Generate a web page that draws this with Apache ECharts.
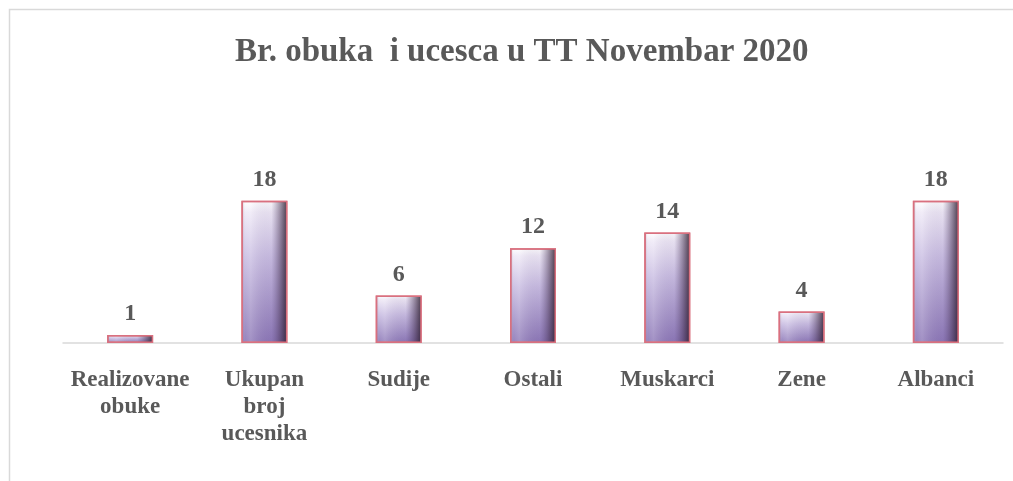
<!DOCTYPE html>
<html>
<head>
<meta charset="utf-8">
<script src="https://cdn.jsdelivr.net/npm/echarts@6/dist/echarts.min.js"></script>
<style>
  html, body { margin: 0; padding: 0; background: #fff; }
  #chart { width: 1013px; height: 481px; }
</style>
</head>
<body>
<div id="chart"></div>
<script>
// data
const categories = ['Realizovane\nobuke', 'Ukupan\nbroj\nucesnika', 'Sudije', 'Ostali', 'Muskarci', 'Zene', 'Albanci']
const values = [1, 18, 6, 12, 14, 4, 18]

const chart = echarts.init(document.getElementById('chart'))

const textColor = '#595959'
const serif = '"Liberation Serif", "DejaVu Serif", serif'

const option = {
    backgroundColor: '#fff',
    animation: false,
    title: {
        text: 'Br. obuka  i ucesca u TT Novembar 2020',
        left: 230,
        top: 31,
        textStyle: {
            fontFamily: serif,
            fontWeight: 'bold',
            fontSize: 33,
            color: textColor
        }
    },
    graphic: [{
        type: 'rect',
        shape: { x: 9.5, y: 9.5, width: 1100, height: 520 },
        style: { fill: 'none', stroke: '#d9d9d9', lineWidth: 1.5 },
        silent: true
    }],
    grid: {
        left: 63,
        right: 10,
        top: 185,
        bottom: 138
    },
    xAxis: {
        type: 'category',
        data: categories,
        axisLine: { lineStyle: { color: '#d9d9d9', width: 1.5 } },
        axisTick: { show: false },
        axisLabel: {
            interval: 0,
            margin: 24,
            fontFamily: serif,
            fontWeight: 'bold',
            fontSize: 23,
            lineHeight: 27,
            color: textColor
        }
    },
    yAxis: {
        type: 'value',
        min: 0,
        max: 20,
        show: false,
        splitLine: { show: false }
    },
    series: [
        {
            // main body: light at top, purple at bottom
            type: 'bar',
            data: values,
            barWidth: 46,
            itemStyle: {
                color: new echarts.graphic.LinearGradient(0, 0, 0, 1, [
                    { offset: 0, color: '#ffffff' },
                    { offset: 0.08, color: '#eee8f6' },
                    { offset: 0.4, color: '#c9bde2' },
                    { offset: 1, color: '#8b76b6' }
                ]),
                borderColor: '#d9707f',
                borderWidth: 1.5
            },
            label: {
                show: true,
                position: 'top',
                distance: 9,
                fontFamily: serif,
                fontWeight: 'bold',
                fontSize: 24,
                color: textColor
            },
            z: 2
        },
        {
            // side shading: darker right edge
            type: 'bar',
            data: values,
            barWidth: 46,
            barGap: '-100%',
            silent: true,
            itemStyle: {
                color: new echarts.graphic.LinearGradient(0, 0, 1, 0, [
                    { offset: 0, color: 'rgba(110,80,110,0.45)' },
                    { offset: 0.08, color: 'rgba(255,255,255,0.1)' },
                    { offset: 0.2, color: 'rgba(255,255,255,0.2)' },
                    { offset: 0.65, color: 'rgba(90,70,120,0.05)' },
                    { offset: 0.85, color: 'rgba(60,40,70,0.5)' },
                    { offset: 1, color: 'rgba(40,25,40,0.85)' }
                ]),
                borderColor: '#d9707f',
                borderWidth: 1.5
            },
            z: 3
        }
    ]
}

chart.setOption(option)
</script>
</body>
</html>
